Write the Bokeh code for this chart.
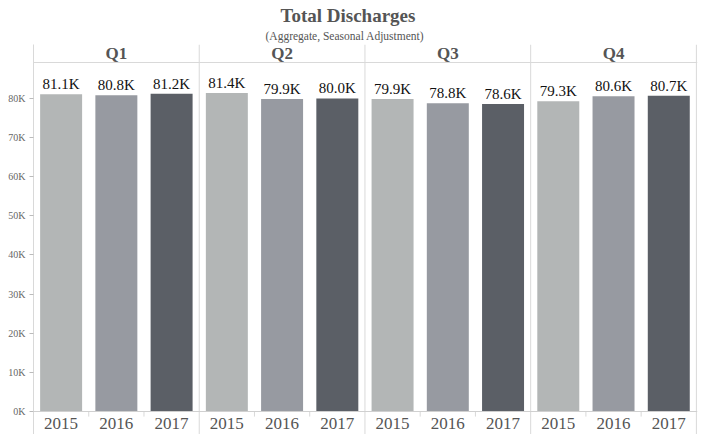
from bokeh.plotting import figure
from bokeh.models import ColumnDataSource, Span, Title, FixedTicker, Range1d
from bokeh.core.properties import value
from bokeh.embed import file_html
from bokeh.resources import INLINE

# ---- data ----
quarters = ["Q1", "Q2", "Q3", "Q4"]
years = ["2015", "2016", "2017"]
discharges_2015 = [81100, 81400, 79900, 79300]
discharges_2016 = [80800, 79900, 78800, 80600]
discharges_2017 = [81200, 80000, 78600, 80700]
y_ticks = [0, 10000, 20000, 30000, 40000, 50000, 60000, 70000, 80000]

year_colors = ["#b3b6b6", "#979aa1", "#5b5f66"]
FONT = "Liberation Serif"

series = [discharges_2015, discharges_2016, discharges_2017]
xs, ys, cols, labels, yr_labels = [], [], [], [], []
for qi, q in enumerate(quarters):
    for yi, yr in enumerate(years):
        v = series[yi][qi]
        xs.append(qi * 3 + yi + 0.5)
        ys.append(v)
        cols.append(year_colors[yi])
        labels.append(f"{v/1000:.1f}K")
        yr_labels.append(yr)
src = ColumnDataSource(dict(x=xs, top=ys, color=cols, label=labels, year=yr_labels))

# layout of the facet grid (in data units of the single frame)
Y_MIN, Y_MAX = -5880, 93800
HEADER_LINE = 89200
HEADER_Y = 91400
YEAR_Y = -3070

p = figure(title=None, width=703, height=434, x_range=Range1d(0, 12.02), y_range=Range1d(Y_MIN, Y_MAX),
           output_backend="svg", toolbar_location=None, x_axis_location=None,
           min_border_left=33, min_border_right=6, min_border_top=44, min_border_bottom=0)
p.outline_line_color = None
p.grid.visible = False
p.background_fill_color = "white"
p.border_fill_color = "white"

p.vbar(x="x", top="top", width=0.76, bottom=0, color="color", source=src, line_color=None)

p.text(x="x", y="top", text="label", source=src, text_align="center", text_baseline="bottom",
       y_offset=-2, text_font=value(FONT), text_font_size="15px", text_color="#111111")

p.text(x="x", y=YEAR_Y, text="year", source=src, text_align="center", text_baseline="middle",
       text_font=value(FONT), text_font_size="17px", text_color="#555555")

hdr = ColumnDataSource(dict(x=[qi * 3 + 1.5 for qi in range(len(quarters))], q=quarters))
p.text(x="x", y=HEADER_Y, text="q", source=hdr, text_align="center", text_baseline="middle",
       text_font=value(FONT), text_font_size="17px", text_font_style="bold", text_color="#555555")

# separators
for xb in [3, 6, 9, 12]:
    p.add_layout(Span(location=xb, dimension="height", line_color="#d9d9d9", line_width=1))
p.add_layout(Span(location=HEADER_LINE, dimension="width", line_color="#d9d9d9", line_width=1))
p.add_layout(Span(location=0, dimension="width", line_color="#d0d0d0", line_width=1))
tick_x = [i for i in range(1, 12) if i % 3 != 0]
p.segment(x0=tick_x, x1=tick_x, y0=[0] * len(tick_x), y1=[-1300] * len(tick_x),
          line_color="#d9d9d9", line_width=1)

# y axis
ax = p.yaxis[0]
ax.ticker = FixedTicker(ticks=y_ticks)
ax.major_label_overrides = {t: f"{t // 1000}K" for t in y_ticks}
ax.axis_line_color = "#d9d9d9"
ax.major_tick_line_color = "#bbbbbb"
ax.major_tick_out = 4
ax.major_tick_in = 0
ax.minor_tick_line_color = None
ax.major_label_text_font = FONT
ax.major_label_text_font_size = "10px"
ax.major_label_text_color = "#666666"
ax.major_label_standoff = 4

p.add_layout(Title(text="(Aggregate, Seasonal Adjustment)", align="left", offset=232, standoff=5,
                   text_font=FONT, text_font_size="11.5px", text_font_style="normal",
                   text_color="#555555"), "above")
p.add_layout(Title(text="Total Discharges", align="left", offset=247, standoff=0,
                   text_font=FONT, text_font_size="19px", text_font_style="bold",
                   text_color="#555555"), "above")

open("out.html", "w").write(file_html(p, INLINE))
